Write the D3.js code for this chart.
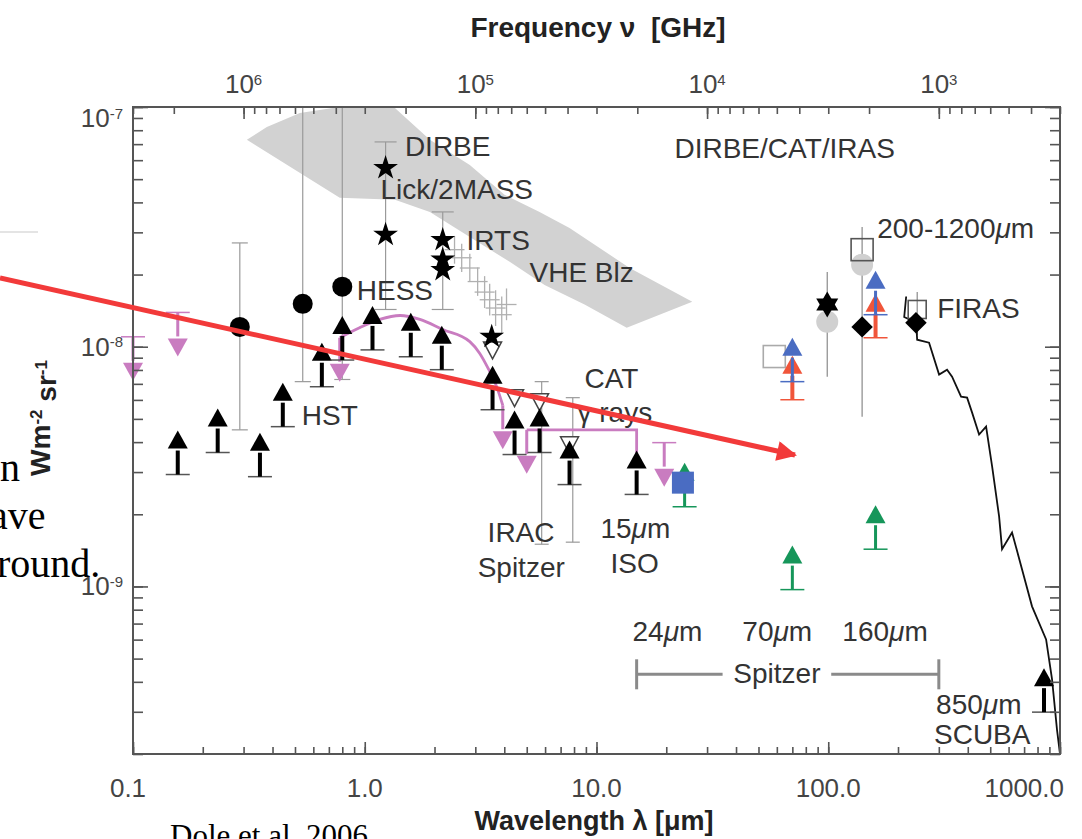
<!DOCTYPE html>
<html>
<head>
<meta charset="utf-8">
<script src="https://cdn.jsdelivr.net/npm/d3@7"></script>
<style>
body { margin: 0; background: #fff; }
svg { display: block; font-family: "Liberation Sans", Arial, Helvetica, sans-serif; }
.ax path { display: none; }
.ax line { stroke: #555; stroke-width: 1.6; }
.lbl { font-size: 28px; fill: #333; }
.tk { font-size: 26px; fill: #444; }
</style>
</head>
<body>
<div id="chart"></div>
<script>
// wavelength in micron, nu*I_nu in W m^-2 sr^-1
var lambdaTicks = [0.1, 1, 10, 100, 1000];
var lambdaTickLabels = ["0.1", "1.0", "10.0", "100.0", "1000.0"];
var freqTicks = [1e6, 1e5, 1e4, 1e3];
var freqTickExp = ["6", "5", "4", "3"];
var fluxTicks = [1e-7, 1e-8, 1e-9];
var fluxTickExp = ["-7", "-8", "-9"];

// grey DIRBE / VHE blazar band (upper edge then lower edge)
var bandLambda = [0.31, 0.378, 0.525, 0.728, 1.35, 1.91, 2.84, 4.01, 5.68, 7.65, 13.9, 25.9,
                  13.5, 8.88, 5.97, 4.22, 2.84, 1.91, 1.35, 0.78];
var bandFlux = [7.3e-8, 8.25e-8, 9.44e-8, 9.9e-8, 9.9e-8, 7.3e-8, 5.73e-8, 4.3e-8, 3.65e-8, 3.13e-8, 2.13e-8, 1.54e-8,
                1.2e-8, 1.5e-8, 1.81e-8, 2.26e-8, 2.87e-8, 3.65e-8, 4.1e-8, 4.18e-8];

// black dots with grey error bars
var dotLambda = [0.289, 0.54, 0.80];
var dotFlux = [1.21e-8, 1.51e-8, 1.78e-8];
var dotLo = [4.5e-9, 7.15e-9, 7.3e-9];
var dotHi = [2.71e-8, 1.2e-7, 1.2e-7];

// DIRBE / Lick / 2MASS / IRTS stars
var starLambda = [1.23, 1.23, 2.17, 2.17, 2.17, 3.53];
var starFlux = [5.57e-8, 2.93e-8, 2.79e-8, 2.31e-8, 2.09e-8, 1.10e-8];
var starBarLambda = [1.23, 2.17];
var starBarLo = [1.43e-8, 1.43e-8];
var starBarHi = [7.15e-8, 3.65e-8];

// IRTS spectrum (grey crosses)
var irtsLambda = [2.44, 2.62, 2.84, 3.07, 3.29, 3.46, 3.67, 3.90, 4.09];
var irtsFlux = [2.54e-8, 2.35e-8, 2.13e-8, 1.87e-8, 1.69e-8, 1.57e-8, 1.45e-8, 1.36e-8, 1.50e-8];
var irtsLo = [2.22e-8, 2.05e-8, 1.86e-8, 1.63e-8, 1.45e-8, 1.35e-8, 1.22e-8, 1.14e-8, 1.29e-8];
var irtsHi = [2.9e-8, 2.69e-8, 2.44e-8, 2.14e-8, 1.97e-8, 1.83e-8, 1.72e-8, 1.62e-8, 1.75e-8];

// black lower limits (galaxy counts)
var lowLimLambda = [0.156, 0.232, 0.353, 0.443, 0.653, 0.80, 1.08, 1.58, 2.15, 3.56, 4.43, 5.68, 7.65, 14.9, 853];
var lowLimFlux = [2.93e-9, 3.62e-9, 2.87e-9, 4.64e-9, 6.81e-9, 8.8e-9, 9.7e-9, 9.08e-9, 8.02e-9, 5.46e-9, 3.55e-9, 3.62e-9, 2.66e-9, 2.42e-9, 2.99e-10];

// magenta upper limits, model curve and step
var upLimLambda = [0.1, 0.156, 0.78, 3.94, 5.0, 19.6];
var upLimFlux = [1.10e-8, 1.39e-8, 1.09e-8, 5.7e-9, 4.5e-9, 3.98e-9];
var upLimCap = [true, true, false, false, false, true];
var modelLambda = [0.78, 0.95, 1.16, 1.42, 1.73, 2.17, 2.84, 3.13, 3.39, 3.71, 3.94];
var modelFlux = [1.09e-8, 1.2e-8, 1.30e-8, 1.35e-8, 1.30e-8, 1.18e-8, 1.05e-8, 9.4e-9, 8.2e-9, 6.8e-9, 5.7e-9];
var stepLambda = [5.0, 14.9, 14.9];
var stepFlux = [4.5e-9, 4.5e-9, 3.6e-9];

// open down triangles (CAT gamma rays)
var catLambda = [3.56, 4.43, 5.68, 7.65];
var catFlux = [9.7e-9, 6.13e-9, 5.9e-9, 3.9e-9];
var catBarLambda = [5.8, 7.9];
var catBarLo = [1.5e-9, 1.53e-9];
var catBarHi = [7.15e-9, 6.13e-9];

// Spitzer 24 / 70 / 160 um
var spitzerLambda = [24, 70, 160];
var spitzerGreen = [2.15e-9, 9.7e-10, 1.43e-9];
var spitzerBlue = [null, 7.15e-9, 1.36e-8];
var spitzerRed = [null, 6.01e-9, 1.09e-8];
var blueSquareLambda = [23.6];
var blueSquareFlux = [2.71e-9];

// far-IR points
var openSqLambda = [58.5, 140, 242];
var openSqFlux = [9.1e-9, 2.54e-8, 1.43e-8];
var greyDotLambda = [99, 140];
var greyDotFlux = [1.27e-8, 2.2e-8];
var hexLambda = [99];
var hexFlux = [1.5e-8];
var diamondLambda = [140, 239];
var diamondFlux = [1.21e-8, 1.26e-8];
var firBarLambda = [99, 140, 242];
var firBarLo = [7.5e-9, 5.1e-9, 1.12e-8];
var firBarHi = [2.05e-8, 3.16e-8, 1.69e-8];

// FIRAS spectrum
var firasLambda = [216.9, 212.7, 239.5, 241.9, 272.3, 300.8, 325.6, 342.2, 374.2, 397.3, 417.6, 447.6, 479.8, 509.6, 546, 562.3, 621, 685.6, 757.3, 871, 924, 970, 1000];
var firasFlux = [1.62e-8, 1.33e-8, 1.26e-8, 1.07e-8, 1.04e-8, 7.65e-9, 8.02e-9, 7.5e-9, 6.19e-9, 6.13e-9, 5.31e-9, 4.3e-9, 4.64e-9, 3.16e-9, 1.96e-9, 1.43e-9, 1.68e-9, 1.18e-9, 8.26e-10, 6.01e-10, 4.1e-10, 2.54e-10, 2.0e-10];

// annotations
var labelText = ["DIRBE", "Lick/2MASS", "IRTS", "VHE Blz", "HESS", "HST", "CAT", "γ rays", "IRAC", "Spitzer", "15μm", "ISO",
                 "DIRBE/CAT/IRAS", "200-1200μm", "FIRAS", "24μm", "70μm", "160μm", "850μm", "SCUBA"];
var labelLambda = [1.49, 1.17, 2.75, 5.14, 0.924, 0.535, 8.88, 8.28, 3.39, 3.07, 10.4, 11.5,
                   21.7, 162.6, 295, 14.3, 42.6, 115, 292, 286];
var labelFlux = [6.25e-8, 4.14e-8, 2.54e-8, 1.87e-8, 1.57e-8, 4.73e-9, 6.75e-9, 4.87e-9, 1.53e-9, 1.09e-9, 1.60e-9, 1.14e-9,
                 6.13e-8, 2.84e-8, 1.32e-8, 5.9e-10, 5.9e-10, 5.9e-10, 2.93e-10, 2.2e-10];
var spitzerRange = [14.9, 300];
var spitzerGap = [35, 103];
var spitzerRangeFlux = 4.3e-10;

var slideLines = ["n", "ave", "round."];
var citation = "Dole et al. 2006";

var W = 1082, H = 839;
var margin = {top: 107, right: 22, bottom: 85, left: 133},
    width = W - margin.left - margin.right,
    height = H - margin.top - margin.bottom;
var C_GHZ = 3e5; // c in GHz * micron
var ARROW = 44;

var pink = "#c97cc0", blue = "#4a6cc2", orange = "#f0553a", green = "#16965a";

var svg = d3.select("#chart").append("svg").attr("width", W).attr("height", H);

// slide text behind the figure
svg.append("line").attr("x1", 0).attr("x2", 38).attr("y1", 232).attr("y2", 232)
    .attr("stroke", "#e4e4e4").attr("stroke-width", 2);
svg.selectAll(".slide").data(slideLines).enter().append("text")
    .attr("class", "slide")
    .attr("x", function(d, i) { return [0, -10, -3][i]; })
    .attr("y", function(d, i) { return 481 + i * 48; })
    .style("font-family", "'Liberation Serif', 'Times New Roman', serif")
    .style("font-size", "40px")
    .attr("fill", "#000")
    .text(function(d) { return d; });
svg.append("text").attr("x", 170).attr("y", 846)
    .style("font-family", "'Liberation Serif', 'Times New Roman', serif")
    .style("font-size", "31px").attr("fill", "#000").text(citation);

var x = d3.scaleLog().domain([0.1, 1000]).range([0, width]);
var y = d3.scaleLog().domain([2e-10, 1e-7]).range([height, 0]);
var nu = d3.scaleLog().domain([C_GHZ / 0.1, C_GHZ / 1000]).range([0, width]);

var g = svg.append("g").attr("transform", "translate(" + margin.left + "," + margin.top + ")");

g.append("clipPath").attr("id", "plotclip").append("rect").attr("width", width).attr("height", height);
var inner = g.append("g").attr("clip-path", "url(#plotclip)");

var line = d3.line().x(function(d) { return x(d[0]); }).y(function(d) { return y(d[1]); });

// band
inner.append("path")
    .datum(bandLambda.map(function(l, i) { return [l, bandFlux[i]]; }))
    .attr("d", line.curve(d3.curveLinearClosed))
    .attr("fill", "#d2d2d2");
line.curve(d3.curveLinear);

function errorBars(sel, lams, lo, hi, capW, color) {
    lams.forEach(function(l, i) {
        var cx = x(l);
        sel.append("line").attr("x1", cx).attr("x2", cx).attr("y1", y(lo[i])).attr("y2", y(hi[i]))
            .attr("stroke", color).attr("stroke-width", 1.2);
        [lo[i], hi[i]].forEach(function(v) {
            sel.append("line").attr("x1", cx - capW).attr("x2", cx + capW).attr("y1", y(v)).attr("y2", y(v))
                .attr("stroke", color).attr("stroke-width", 1.2);
        });
    });
}

errorBars(inner, dotLambda, dotLo, dotHi, 8, "#9a9a9a");
errorBars(inner, starBarLambda, starBarLo, starBarHi, 11, "#9a9a9a");
errorBars(inner, catBarLambda, catBarLo, catBarHi, 7, "#9a9a9a");
errorBars(inner, firBarLambda, firBarLo, firBarHi, 0, "#8a8a8a");

// IRTS crosses
irtsLambda.forEach(function(l, i) {
    var cx = x(l), cy = y(irtsFlux[i]);
    inner.append("line").attr("x1", cx).attr("x2", cx).attr("y1", y(irtsLo[i])).attr("y2", y(irtsHi[i]))
        .attr("stroke", "#b0b0b0").attr("stroke-width", 1.3);
    inner.append("line").attr("x1", cx - 10).attr("x2", cx + 10).attr("y1", cy).attr("y2", cy)
        .attr("stroke", "#b0b0b0").attr("stroke-width", 1.3);
});

// FIRAS
inner.append("path")
    .datum(firasLambda.map(function(l, i) { return [l, firasFlux[i]]; }))
    .attr("d", line)
    .attr("fill", "none").attr("stroke", "#111").attr("stroke-width", 1.8);

// magenta model curve and step
g.append("path")
    .datum(modelLambda.map(function(l, i) { return [l, modelFlux[i]]; }))
    .attr("d", line.curve(d3.curveMonotoneX))
    .attr("fill", "none").attr("stroke", pink).attr("stroke-width", 2.8);
line.curve(d3.curveLinear);
g.append("path")
    .datum(stepLambda.map(function(l, i) { return [l, stepFlux[i]]; }))
    .attr("d", line)
    .attr("fill", "none").attr("stroke", pink).attr("stroke-width", 2.8);

function limitArrow(sel, lam, flux, color, dir, stem, cap, capColor) {
    var cx = x(lam), cy = y(flux), tip = cy - dir * ARROW, base = tip + dir * 18;
    if (cap) {
        sel.append("line").attr("x1", cx - 12).attr("x2", cx + 12).attr("y1", cy).attr("y2", cy)
            .attr("stroke", capColor || color).attr("stroke-width", 1.5);
    }
    sel.append("line").attr("x1", cx).attr("x2", cx).attr("y1", cy).attr("y2", base + dir * 2)
        .attr("stroke", color).attr("stroke-width", stem);
    sel.append("path")
        .attr("d", "M" + (cx - 10) + "," + base + "L" + cx + "," + tip + "L" + (cx + 10) + "," + base + "Z")
        .attr("fill", color);
}

// open squares and grey dots
greyDotLambda.forEach(function(l, i) {
    g.append("circle").attr("cx", x(l)).attr("cy", y(greyDotFlux[i])).attr("r", 11).attr("fill", "#d0d0d0");
});
openSqLambda.forEach(function(l, i) {
    var s = i == 2 ? 18 : 22;
    g.append("rect").attr("x", x(l) - s / 2).attr("y", y(openSqFlux[i]) - s / 2).attr("width", s).attr("height", s)
        .attr("fill", "none").attr("stroke", i == 0 ? "#aaa" : "#555").attr("stroke-width", 1.6);
});

upLimLambda.forEach(function(l, i) { limitArrow(g, l, upLimFlux[i], pink, -1, 3, upLimCap[i]); });

catLambda.forEach(function(l, i) {
    var cx = x(l), cy = y(catFlux[i]);
    g.append("path").attr("d", "M" + (cx - 9) + "," + (cy - 8) + "L" + (cx + 9) + "," + (cy - 8) + "L" + cx + "," + (cy + 9) + "Z")
        .attr("fill", "#fff").attr("stroke", "#444").attr("stroke-width", 1.5);
});

lowLimLambda.forEach(function(l, i) { limitArrow(g, l, lowLimFlux[i], "#000", 1, 4, true, "#555"); });

spitzerLambda.forEach(function(l, i) {
    limitArrow(g, l, spitzerGreen[i], green, 1, 3, true);
    if (spitzerRed[i]) limitArrow(g, l, spitzerRed[i], orange, 1, 4, true);
    if (spitzerBlue[i]) limitArrow(g, l, spitzerBlue[i], blue, 1, 3, true);
});

blueSquareLambda.forEach(function(l, i) {
    g.append("rect").attr("x", x(l) - 11).attr("y", y(blueSquareFlux[i]) - 11).attr("width", 22).attr("height", 22)
        .attr("fill", blue);
});

dotLambda.forEach(function(l, i) {
    g.append("circle").attr("cx", x(l)).attr("cy", y(dotFlux[i])).attr("r", 10).attr("fill", "#000");
});

var star = d3.symbol().type(d3.symbolStar).size(190);
starLambda.forEach(function(l, i) {
    g.append("path").attr("d", star).attr("transform", "translate(" + x(l) + "," + y(starFlux[i]) + ")").attr("fill", "#000");
});

hexLambda.forEach(function(l, i) {
    var cx = x(l), cy = y(hexFlux[i]);
    g.append("path").attr("d", "M" + (cx - 11) + "," + (cy - 6) + "L" + (cx + 11) + "," + (cy - 6) + "L" + cx + "," + (cy + 13) + "Z").attr("fill", "#000");
    g.append("path").attr("d", "M" + (cx - 11) + "," + (cy + 6) + "L" + (cx + 11) + "," + (cy + 6) + "L" + cx + "," + (cy - 13) + "Z").attr("fill", "#000");
});

diamondLambda.forEach(function(l, i) {
    g.append("path").attr("d", d3.symbol().type(d3.symbolSquare).size(230))
        .attr("transform", "translate(" + x(l) + "," + y(diamondFlux[i]) + ") rotate(45)").attr("fill", "#000");
});

// Spitzer bracket
var sy = y(spitzerRangeFlux);
[[spitzerRange[0], spitzerGap[0]], [spitzerGap[1], spitzerRange[1]]].forEach(function(seg) {
    g.append("line").attr("x1", x(seg[0])).attr("x2", x(seg[1])).attr("y1", sy).attr("y2", sy)
        .attr("stroke", "#8a8a8a").attr("stroke-width", 3);
});
spitzerRange.forEach(function(l) {
    g.append("line").attr("x1", x(l)).attr("x2", x(l)).attr("y1", sy - 15).attr("y2", sy + 15)
        .attr("stroke", "#8a8a8a").attr("stroke-width", 3);
});

// labels
labelText.forEach(function(txt, i) {
    var t = g.append("text").attr("class", "lbl").attr("x", x(labelLambda[i])).attr("y", y(labelFlux[i]));
    txt.split(/(μ)/).forEach(function(part) {
        if (!part) return;
        var s = t.append("tspan").text(part);
        if (part == "μ") s.style("font-style", "italic");
    });
});
g.append("text").attr("class", "lbl").attr("x", (x(spitzerGap[0]) + x(spitzerGap[1])) / 2).attr("y", sy + 9)
    .attr("text-anchor", "middle").text("Spitzer");

// axes
g.append("g").attr("class", "ax").attr("transform", "translate(0," + height + ")")
    .call(d3.axisBottom(x).tickValues(x.ticks()).tickSize(-7).tickFormat(""));
g.append("g").attr("class", "ax").attr("transform", "translate(0," + height + ")")
    .call(d3.axisBottom(x).tickValues(lambdaTicks).tickSize(-12).tickFormat(""));
g.append("g").attr("class", "ax")
    .call(d3.axisTop(nu).tickValues(nu.ticks()).tickSize(-7).tickFormat(""));
g.append("g").attr("class", "ax")
    .call(d3.axisTop(nu).tickValues(freqTicks).tickSize(-12).tickFormat(""));
g.append("g").attr("class", "ax")
    .call(d3.axisLeft(y).tickValues(y.ticks()).tickSize(-10).tickFormat(""));
g.append("g").attr("class", "ax")
    .call(d3.axisLeft(y).tickValues(fluxTicks).tickSize(-15).tickFormat(""));
g.append("g").attr("class", "ax").attr("transform", "translate(" + width + ",0)")
    .call(d3.axisRight(y).tickValues(y.ticks()).tickSize(-10).tickFormat(""));
g.append("g").attr("class", "ax").attr("transform", "translate(" + width + ",0)")
    .call(d3.axisRight(y).tickValues(fluxTicks).tickSize(-15).tickFormat(""));

g.append("rect").attr("width", width).attr("height", height)
    .attr("fill", "none").attr("stroke", "#555").attr("stroke-width", 2);

// tick labels
lambdaTicks.forEach(function(v, i) {
    var last = i == lambdaTicks.length - 1;
    g.append("text").attr("class", "tk")
        .attr("x", last ? x(v) + 4 : x(v) - (i == 0 ? 5 : 0))
        .attr("y", height + 43)
        .attr("text-anchor", last ? "end" : "middle")
        .text(lambdaTickLabels[i]);
});

function powLabel(px, py, exp, anchor) {
    var t = g.append("text").attr("class", "tk").attr("x", px).attr("y", py).attr("text-anchor", anchor);
    t.append("tspan").text("10");
    t.append("tspan").attr("dy", "-0.55em").style("font-size", "15px").text(exp);
    return t;
}
freqTicks.forEach(function(v, i) { powLabel(nu(v), -14, freqTickExp[i], "middle"); });
fluxTicks.forEach(function(v, i) { powLabel(-10, Math.max(y(v), 11) + 9, fluxTickExp[i], "end"); });

// axis titles
svg.append("text").attr("x", 598).attr("y", 37).attr("text-anchor", "middle")
    .style("font-size", "28px").style("font-weight", "bold").attr("fill", "#222")
    .style("white-space", "pre")
    .text("Frequency ν  [GHz]");
svg.append("text").attr("x", 594).attr("y", 830).attr("text-anchor", "middle")
    .style("font-size", "27px").style("font-weight", "bold").attr("fill", "#222")
    .text("Wavelength λ [μm]");
var yt = svg.append("text").attr("transform", "translate(50,418) rotate(-90)").attr("text-anchor", "middle")
    .style("font-size", "28px").style("font-weight", "bold").attr("fill", "#222");
yt.append("tspan").text("Wm");
yt.append("tspan").attr("dy", "-0.5em").style("font-size", "17px").text("-2");
yt.append("tspan").attr("dy", "0.5em").text(" sr");
yt.append("tspan").attr("dy", "-0.5em").style("font-size", "17px").text("-1");

// red overlay arrow
svg.append("defs").append("marker").attr("id", "redhead")
    .attr("viewBox", "0 0 10 10").attr("refX", 9).attr("refY", 5)
    .attr("markerWidth", 5.5).attr("markerHeight", 4).attr("orient", "auto")
    .append("path").attr("d", "M0,0L10,5L0,10Z").attr("fill", "#f23a3a");
svg.append("line").attr("x1", 0).attr("y1", 278).attr("x2", 795).attr("y2", 455)
    .attr("stroke", "#f23a3a").attr("stroke-width", 5).attr("marker-end", "url(#redhead)");
</script>
</body>
</html>
